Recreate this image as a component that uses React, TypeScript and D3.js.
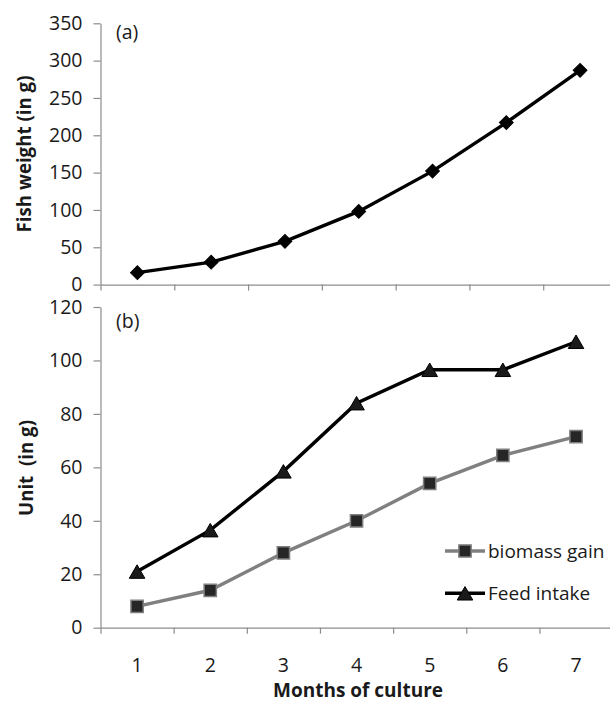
import { useEffect, useRef } from "react";
import * as d3 from "d3";

// values
const months = [1, 2, 3, 4, 5, 6, 7];
const fishWeight = [16, 30, 58, 98, 152, 217, 287];
const biomassGain = [8, 14, 28, 40, 54, 64.5, 71.5];
const feedIntake = [21, 36.5, 58.5, 84, 96.5, 96.5, 107];
const weightTicks = [0, 50, 100, 150, 200, 250, 300, 350];
const unitTicks = [0, 20, 40, 60, 80, 100, 120];
const legendItems = ["biomass gain", "Feed intake"];

const FONT = "'Open Sans', 'Noto Sans', sans-serif";
const AXIS_GREY = "#8c8c8c";
const TEXT = "#1a1a1a";

export default function App() {
  const svgRef = useRef<SVGSVGElement>(null);

  useEffect(() => {
    if (!svgRef.current) return;
    const svg = d3.select(svgRef.current);
    svg.selectAll("*").remove();

    // scales (category axis: ticks at band edges, points at band centres)
    const xTop = d3.scaleLinear().domain([0, 7]).range([100.5, 617]);
    const yTop = d3.scaleLinear().domain([0, 350]).range([284.6, 23.3]);
    const xBot = d3.scaleLinear().domain([0, 7]).range([100.5, 612.6]);
    const yBot = d3.scaleLinear().domain([0, 120]).range([627.7, 307]);

    const styleAxis = (g: any) => {
      g.select(".domain").attr("stroke", AXIS_GREY).attr("stroke-width", 1.2);
      g.selectAll(".tick line").attr("stroke", AXIS_GREY).attr("stroke-width", 1.2);
      g.selectAll(".tick text")
        .attr("fill", TEXT)
        .style("font-family", FONT)
        .style("font-size", "19.5px");
    };

    // ---- panel (a) ----
    svg
      .append("g")
      .attr("transform", `translate(${xTop(0)},0)`)
      .call(
        d3.axisLeft(yTop).tickValues(weightTicks).tickSize(7).tickSizeOuter(0).tickPadding(11) as any,
      )
      .call(styleAxis);

    svg
      .append("g")
      .attr("transform", `translate(0,${yTop(0)})`)
      .call(
        d3
          .axisBottom(xTop)
          .tickValues(d3.range(0, 8))
          .tickFormat(() => "")
          .tickSize(6)
          .tickSizeOuter(0) as any,
      )
      .call(styleAxis);

    const lineTop = d3
      .line<number>()
      .x((_, i) => xTop(i + 0.5))
      .y((d) => yTop(d));

    svg
      .append("path")
      .datum(fishWeight)
      .attr("fill", "none")
      .attr("stroke", "#000")
      .attr("stroke-width", 3.4)
      .attr("d", lineTop);

    const diamond = d3.symbol(d3.symbolSquare, 95);
    svg
      .append("g")
      .selectAll("path")
      .data(fishWeight)
      .join("path")
      .attr("d", diamond)
      .attr("transform", (d, i) => `translate(${xTop(i + 0.5)},${yTop(d)}) rotate(45)`)
      .attr("fill", "#000")
      .attr("stroke", "#000")
      .attr("stroke-width", 1);

    svg
      .append("text")
      .attr("x", 116)
      .attr("y", 39)
      .attr("fill", TEXT)
      .style("font-family", FONT)
      .style("font-size", "19.5px")
      .text("(a)");

    svg
      .append("text")
      .attr("transform", `translate(30.5,154) rotate(-90)`)
      .attr("text-anchor", "middle")
      .attr("fill", TEXT)
      .style("font-family", FONT)
      .style("font-size", "18.7px")
      .style("font-weight", "bold")
      .text("Fish weight (in g)");

    // ---- panel (b) ----
    svg
      .append("g")
      .attr("transform", `translate(${xBot(0)},0)`)
      .call(
        d3.axisLeft(yBot).tickValues(unitTicks).tickSize(7).tickSizeOuter(0).tickPadding(11) as any,
      )
      .call(styleAxis);

    svg
      .append("g")
      .attr("transform", `translate(0,${yBot(0)})`)
      .call(
        d3
          .axisBottom(xBot)
          .tickValues(d3.range(0, 8))
          .tickFormat(() => "")
          .tickSize(6)
          .tickSizeOuter(0) as any,
      )
      .call(styleAxis);

    // month labels under the band centres
    svg
      .append("g")
      .selectAll("text")
      .data(months)
      .join("text")
      .attr("x", (_, i) => xBot(i + 0.5))
      .attr("y", 671.5)
      .attr("text-anchor", "middle")
      .attr("fill", TEXT)
      .style("font-family", FONT)
      .style("font-size", "19.5px")
      .text((d) => d);

    const lineBot = d3
      .line<number>()
      .x((_, i) => xBot(i + 0.5))
      .y((d) => yBot(d));

    svg
      .append("path")
      .datum(biomassGain)
      .attr("fill", "none")
      .attr("stroke", "#808080")
      .attr("stroke-width", 3.4)
      .attr("d", lineBot);

    svg
      .append("path")
      .datum(feedIntake)
      .attr("fill", "none")
      .attr("stroke", "#000")
      .attr("stroke-width", 3.4)
      .attr("d", lineBot);

    const square = d3.symbol(d3.symbolSquare, 150);
    const triangle = d3.symbol(d3.symbolTriangle, 105);
    // shift the triangle so its bounding box is centred on the point
    const triShift = Math.sqrt(105 / (Math.sqrt(3) * 3)) / 2;

    svg
      .append("g")
      .selectAll("path")
      .data(biomassGain)
      .join("path")
      .attr("d", square)
      .attr("transform", (d, i) => `translate(${xBot(i + 0.5)},${yBot(d)})`)
      .attr("fill", "#262626")
      .attr("stroke", "#7f7f7f")
      .attr("stroke-width", 1.5);

    svg
      .append("g")
      .selectAll("path")
      .data(feedIntake)
      .join("path")
      .attr("d", triangle)
      .attr("transform", (d, i) => `translate(${xBot(i + 0.5)},${yBot(d) + triShift})`)
      .attr("fill", "#1a1a1a")
      .attr("stroke", "#000")
      .attr("stroke-width", 1);

    svg
      .append("text")
      .attr("x", 116)
      .attr("y", 328)
      .attr("fill", TEXT)
      .style("font-family", FONT)
      .style("font-size", "19.5px")
      .text("(b)");

    svg
      .append("text")
      .attr("transform", `translate(33,468) rotate(-90)`)
      .attr("text-anchor", "middle")
      .attr("fill", TEXT)
      .style("font-family", FONT)
      .style("font-size", "18.7px")
      .style("font-weight", "bold")
      .style("white-space", "pre")
      .text("Unit  (in g)");

    svg
      .append("text")
      .attr("x", 358)
      .attr("y", 697)
      .attr("text-anchor", "middle")
      .attr("fill", TEXT)
      .style("font-family", FONT)
      .style("font-size", "19px")
      .style("font-weight", "bold")
      .text("Months of culture");

    // legend
    const legend = svg
      .append("g")
      .selectAll("g")
      .data(legendItems)
      .join("g")
      .attr("transform", (_, i) => `translate(445,${551 + i * 42.3})`);

    legend
      .append("line")
      .attr("x1", 0)
      .attr("x2", 40)
      .attr("stroke", (_, i) => (i === 0 ? "#808080" : "#000"))
      .attr("stroke-width", 3.4);

    legend
      .append("path")
      .attr("d", (_, i) => (i === 0 ? square() : triangle()))
      .attr("transform", (_, i) => `translate(20,${i === 0 ? 0 : triShift})`)
      .attr("fill", (_, i) => (i === 0 ? "#262626" : "#1a1a1a"))
      .attr("stroke", (_, i) => (i === 0 ? "#7f7f7f" : "#000"))
      .attr("stroke-width", (_, i) => (i === 0 ? 1.5 : 1));

    legend
      .append("text")
      .attr("x", 43)
      .attr("y", 7)
      .attr("fill", TEXT)
      .style("font-family", FONT)
      .style("font-size", "19px")
      .text((d) => d);
  }, []);

  return (
    <svg
      ref={svgRef}
      width={610}
      height={705}
      style={{ position: "absolute", left: 0, top: 0, background: "#fff" }}
    />
  );
}
